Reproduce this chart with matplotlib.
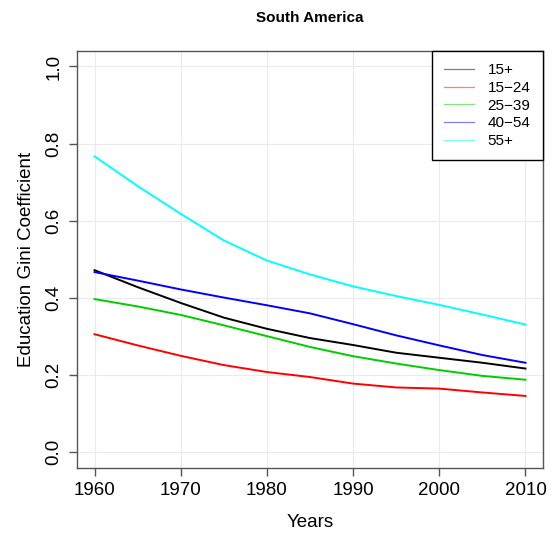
import matplotlib.pyplot as plt
import numpy as np

plt.rcParams['font.family'] = ['Liberation Sans', 'DejaVu Sans']

years = [1960, 1965, 1970, 1975, 1980, 1985, 1990, 1995, 2000, 2005, 2010]
labels = ['15+', '15\u221224', '25\u221239', '40\u221254', '55+']
colors = ['black', '#ff0000', '#00cd00', '#0000ff', '#00ffff']

g15p = [0.472, 0.428, 0.387, 0.349, 0.320, 0.296, 0.278, 0.258, 0.245, 0.232, 0.217]
g1524 = [0.306, 0.277, 0.250, 0.226, 0.208, 0.195, 0.178, 0.168, 0.165, 0.155, 0.146]
g2539 = [0.397, 0.378, 0.356, 0.329, 0.301, 0.273, 0.249, 0.230, 0.213, 0.198, 0.188]
g4054 = [0.467, 0.445, 0.422, 0.401, 0.381, 0.360, 0.332, 0.303, 0.277, 0.252, 0.232]
g55p = [0.767, 0.690, 0.618, 0.549, 0.497, 0.461, 0.430, 0.405, 0.382, 0.357, 0.331]

series = [g15p, g1524, g2539, g4054, g55p]

fig = plt.figure(figsize=(5.53, 5.33), dpi=100)
ax = fig.add_axes([0.1398, 0.1225, 0.8416, 0.7818])

for vals, lab, c in zip(series, labels, colors):
    ax.plot(years, vals, color=c, lw=1.4, label=lab, zorder=3)

ax.set_xlim(1958, 2012)
ax.set_ylim(-0.04, 1.04)
ax.set_xticks(np.arange(1960, 2011, 10))
ax.set_yticks(np.arange(0, 1.01, 0.2))
ax.set_yticklabels(['%.1f' % v for v in np.arange(0, 1.01, 0.2)], rotation=90, va='center')
ax.grid(True, color='#ebebeb', lw=0.8, zorder=0)
ax.tick_params(direction='out', length=5.5, width=1, color='#555555',
               labelsize=13.5, pad=5)
for s in ax.spines.values():
    s.set_color('#555555')
    s.set_linewidth(1)

ax.set_xlabel('Years', fontsize=13.5)
ax.set_ylabel('Education Gini Coefficient', fontsize=13.5)
ax.xaxis.set_label_coords(0.5, -0.111)
ax.yaxis.set_label_coords(-0.091, 0.5)

fig.text(310 / 553, 1 - 18 / 533, 'South America', fontsize=11, fontweight='bold',
         ha='center', va='center')

leg = ax.legend(loc='upper right', borderaxespad=0, fontsize=11, fancybox=False,
                framealpha=1, edgecolor='black', handlelength=1.95, handletextpad=0.92,
                labelspacing=0.24, borderpad=0.8)
leg.get_frame().set_linewidth(1)
for ln in leg.get_lines():
    ln.set_linewidth(0.9)
    ln.set_alpha(0.5)

fig.savefig('out.png', dpi=100)
